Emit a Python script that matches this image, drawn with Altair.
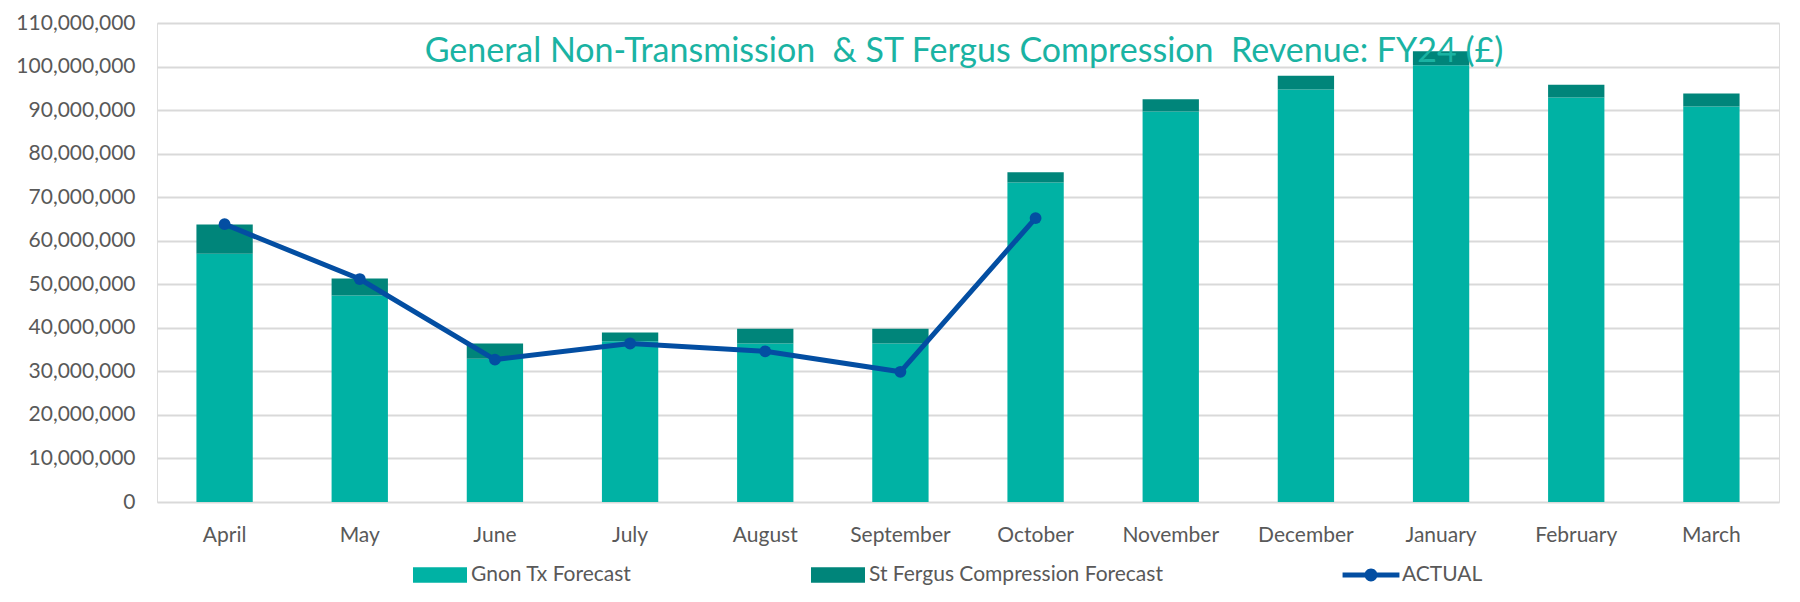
import altair as alt
import pandas as pd

months = ["April", "May", "June", "July", "August", "September", "October",
          "November", "December", "January", "February", "March"]
gnon_forecast = [57.0e6, 47.4e6, 32.9e6, 36.9e6, 36.4e6, 36.4e6, 73.4e6,
                 89.7e6, 94.7e6, 100.3e6, 92.9e6, 90.8e6]
stf_forecast = [6.7e6, 3.9e6, 3.5e6, 2.0e6, 3.4e6, 3.4e6, 2.3e6,
                2.8e6, 3.2e6, 3.2e6, 2.9e6, 3.0e6]
actual_months = ["April", "May", "June", "July", "August", "September", "October"]
actual_values = [63.8e6, 51.2e6, 32.7e6, 36.4e6, 34.6e6, 29.9e6, 65.2e6]
series_names = ["Gnon Tx Forecast", "St Fergus Compression Forecast", "ACTUAL"]
series_colors = ["#00B2A4", "#00857A", "#034EA2"]
y_ticks = [0, 10e6, 20e6, 30e6, 40e6, 50e6, 60e6, 70e6, 80e6, 90e6, 100e6, 110e6]
title_text = "General Non-Transmission\u00a0 & ST Fergus Compression\u00a0 Revenue: FY24 (£)"

rows = []
for m, g, s in zip(months, gnon_forecast, stf_forecast):
    rows.append({"month": m, "series": series_names[0], "value": g, "ord": 0})
    rows.append({"month": m, "series": series_names[1], "value": s, "ord": 1})
bars_df = pd.DataFrame(rows)
actual_df = pd.DataFrame({"month": actual_months, "value": actual_values,
                          "series": [series_names[2]] * len(actual_months)})
title_df = pd.DataFrame({"title": [title_text]})

FONT = "Lato"
TXT = "#595959"
W, H = 1622, 479

rect_path = "M-1.5,-0.436H1.5V0.436H-1.5Z"
line_path = ("M-1.58,-0.14H1.58V0.14H-1.58Z "
             "M-0.36,0A0.36,0.36 0 1 1 0.36,0A0.36,0.36 0 1 1 -0.36,0Z")

x_enc = alt.X("month:N", sort=months,
              scale=alt.Scale(domain=months, paddingInner=0.5833, paddingOuter=0.2917),
              axis=alt.Axis(title=None, labelAngle=0, labelFontSize=21, labelColor=TXT,
                            labelFont=FONT, labelPadding=22, domain=False, ticks=False,
                            grid=False))
y_axis = alt.Axis(title=None, values=y_ticks, format=",d", labelFontSize=21,
                  labelColor=TXT, labelFont=FONT, labelPadding=22, domain=False,
                  ticks=False, gridColor="#D9D9D9", gridWidth=2)
y_scale = alt.Scale(domain=[0, 110e6], nice=False, zero=True)

color_scale = alt.Scale(domain=series_names, range=series_colors)
shape_scale = alt.Scale(domain=series_names, range=[rect_path, rect_path, line_path])

legend = alt.Legend(title=None, orient="none", legendX=265, legendY=534,
                    direction="horizontal", columnPadding=179, labelOffset=13,
                    symbolSize=1296, labelFontSize=21, labelColor=TXT, labelFont=FONT,
                    labelLimit=0, padding=0, symbolStrokeWidth=0, symbolOpacity=1)

bars = alt.Chart(bars_df).mark_bar().encode(
    x=x_enc,
    y=alt.Y("value:Q", stack="zero", scale=y_scale, axis=y_axis),
    color=alt.Color("series:N", scale=color_scale, legend=legend),
    order=alt.Order("ord:Q"),
)

legend_layer = alt.Chart(actual_df).mark_point(filled=True, opacity=0).encode(
    x=x_enc,
    y=alt.Y("value:Q", stack=None, scale=y_scale, axis=y_axis),
    color=alt.Color("series:N", scale=color_scale, legend=legend),
    shape=alt.Shape("series:N", scale=shape_scale, legend=legend),
)

line = alt.Chart(actual_df).mark_line(strokeWidth=5).encode(
    x=x_enc,
    y=alt.Y("value:Q", stack=None, scale=y_scale, axis=y_axis),
    color=alt.Color("series:N", scale=color_scale, legend=None),
)

pts = alt.Chart(actual_df).mark_circle(size=140, opacity=1).encode(
    x=x_enc,
    y=alt.Y("value:Q", stack=None, scale=y_scale, axis=y_axis),
    color=alt.Color("series:N", scale=color_scale, legend=None),
)

title = alt.Chart(title_df).mark_text(
    font=FONT, fontSize=34, color="#1AB3A3", align="center", baseline="alphabetic"
).encode(text="title:N", x=alt.value(W / 2 - 4), y=alt.value(39))

chart = alt.layer(bars, legend_layer, line, pts, title).properties(
    width=W, height=H,
    autosize="none",
    padding={"left": 149, "top": 15, "right": 10, "bottom": 90},
).configure_view(stroke=None).configure(font=FONT)

chart.save("out.html", embed_options={"renderer": "svg", "actions": False})
